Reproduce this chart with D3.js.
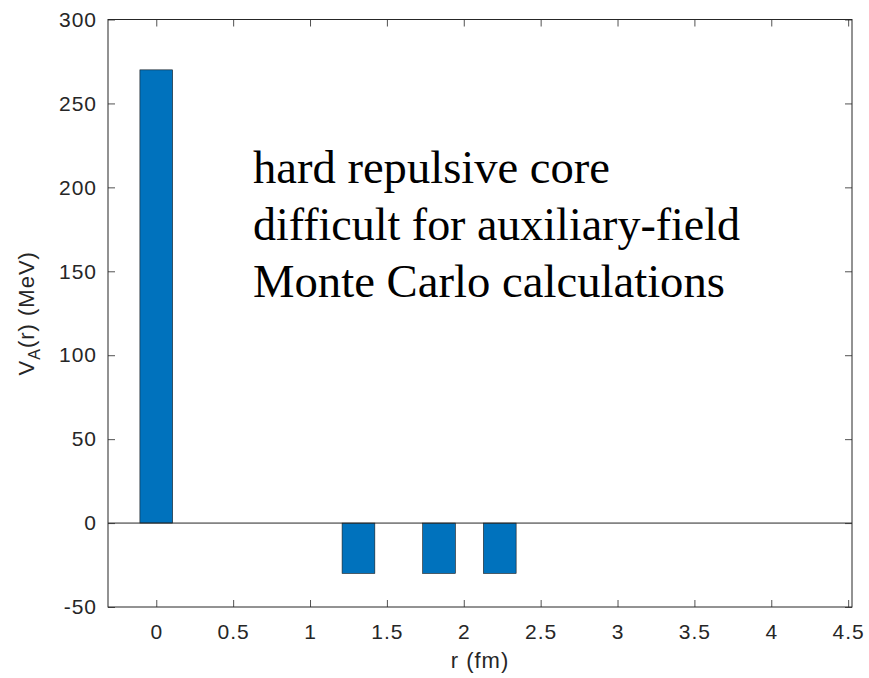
<!DOCTYPE html>
<html>
<head>
<meta charset="utf-8">
<script src="https://cdn.jsdelivr.net/npm/d3@7"></script>
<style>
  body { margin: 0; background: #fff; }
  svg { display: block; }
</style>
</head>
<body>
<div id="chart"></div>
<script>
// bar positions (fm) and potential values (MeV)
const rValues = [0, 1.315, 1.839, 2.234];
const vValues = [270, -30, -30, -30];
const xTicks = [0, 0.5, 1, 1.5, 2, 2.5, 3, 3.5, 4, 4.5];
const yTicks = [-50, 0, 50, 100, 150, 200, 250, 300];
const noteLines = ["hard repulsive core", "difficult for auxiliary-field", "Monte Carlo calculations"];

const W = 869, H = 678;
const LEFT = 108, RIGHT = 852, TOP = 19.5, BOTTOM = 607;
const BAR_W = 0.213; // in fm
const AXIS = "#262626";
const TICK_FONT = "Liberation Sans, Arial, Helvetica, sans-serif";

const svg = d3.select("#chart").append("svg")
    .attr("width", W)
    .attr("height", H);

const x = d3.scaleLinear().domain([-0.314, 4.525]).range([LEFT, RIGHT]);
const y = d3.scaleLinear().domain([-50, 300]).range([BOTTOM, TOP]);

// bars
svg.append("g").selectAll("rect")
    .data(rValues.map((r, i) => ({r: r, v: vValues[i]})))
    .enter().append("rect")
    .attr("x", d => x(d.r - BAR_W / 2))
    .attr("width", d => x(d.r + BAR_W / 2) - x(d.r - BAR_W / 2))
    .attr("y", d => y(Math.max(0, d.v)))
    .attr("height", d => Math.abs(y(d.v) - y(0)))
    .attr("fill", "#0072BD")
    .attr("stroke", "#1a1a1a")
    .attr("stroke-width", 0.6);

// baseline
svg.append("line")
    .attr("x1", LEFT).attr("x2", RIGHT)
    .attr("y1", y(0)).attr("y2", y(0))
    .attr("stroke", AXIS).attr("stroke-width", 1);

// axes (ticks inward, mirrored like a boxed plot)
const fmt = d => String(d);
const xAxisB = d3.axisBottom(x).tickValues(xTicks).tickSize(-7).tickPadding(17).tickFormat(fmt);
const xAxisT = d3.axisTop(x).tickValues(xTicks).tickSize(-7).tickFormat("");
const yAxisL = d3.axisLeft(y).tickValues(yTicks).tickSize(-7).tickPadding(11).tickFormat(fmt);
const yAxisR = d3.axisRight(y).tickValues(yTicks).tickSize(-7).tickFormat("");

function styleAxis(g) {
    g.select(".domain").remove();
    g.selectAll(".tick line").attr("stroke", AXIS).attr("stroke-width", 0.8);
    g.selectAll("text")
        .attr("fill", AXIS)
        .style("font-family", TICK_FONT)
        .style("font-size", "21px")
        .style("letter-spacing", "1px");
}

svg.append("g").attr("transform", `translate(0,${BOTTOM})`).call(xAxisB).call(styleAxis);
svg.append("g").attr("transform", `translate(0,${TOP})`).call(xAxisT).call(styleAxis);
svg.append("g").attr("transform", `translate(${LEFT},0)`).call(yAxisL).call(styleAxis);
svg.append("g").attr("transform", `translate(${RIGHT},0)`).call(yAxisR).call(styleAxis);

// box
svg.append("rect")
    .attr("x", LEFT).attr("y", TOP)
    .attr("width", RIGHT - LEFT).attr("height", BOTTOM - TOP)
    .attr("fill", "none").attr("stroke", AXIS).attr("stroke-width", 1);

// axis labels
svg.append("text")
    .attr("x", (LEFT + RIGHT) / 2)
    .attr("y", 668)
    .attr("text-anchor", "middle")
    .attr("fill", AXIS)
    .style("font-family", TICK_FONT)
    .style("font-size", "22px")
    .style("letter-spacing", "1px")
    .text("r (fm)");

const yl = svg.append("text")
    .attr("transform", `translate(34,${(TOP + BOTTOM) / 2}) rotate(-90)`)
    .attr("text-anchor", "middle")
    .attr("fill", AXIS)
    .style("font-family", TICK_FONT)
    .style("font-size", "22px")
    .style("letter-spacing", "1px");
yl.append("tspan").text("V");
yl.append("tspan").attr("dy", 6).style("font-size", "16px").text("A");
yl.append("tspan").attr("dy", -6).text("(r) (MeV)");

// annotation
const noteWidths = [357, 487, 472];
svg.append("g").selectAll("text")
    .data(noteLines)
    .enter().append("text")
    .attr("x", 253)
    .attr("y", (d, i) => 183 + i * 56.8)
    .attr("textLength", (d, i) => noteWidths[i])
    .attr("lengthAdjust", "spacingAndGlyphs")
    .attr("fill", "#000")
    .style("font-family", "Liberation Serif, Times New Roman, serif")
    .style("font-size", "46px")
    .text(d => d);
</script>
</body>
</html>
